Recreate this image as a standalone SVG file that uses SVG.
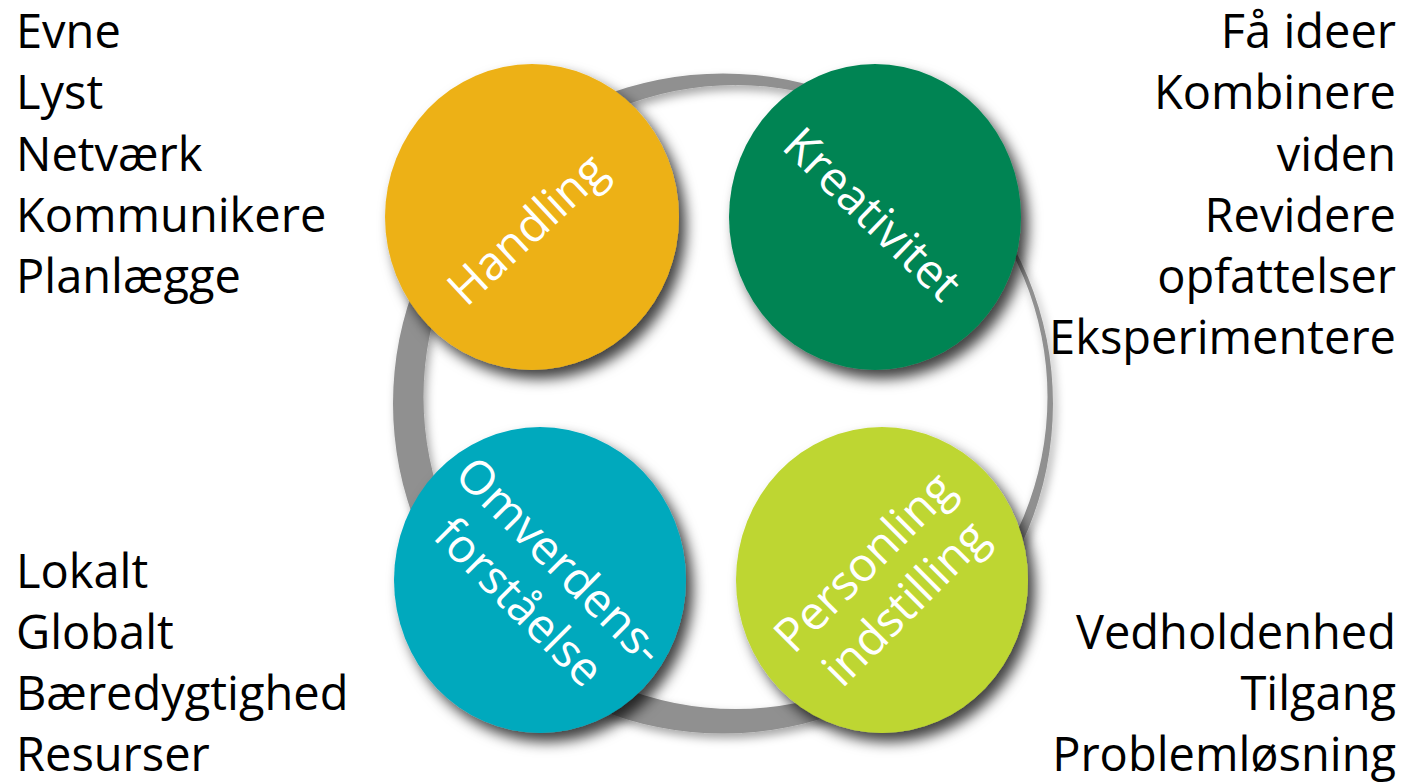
<svg xmlns="http://www.w3.org/2000/svg" width="1406" height="784" viewBox="0 0 1406 784">
  <style>
    .side { font-family: "Open Sans", "Noto Sans", sans-serif; font-size: 47px; fill: #000; }
    .right { text-anchor: end; }
    .label { font-family: "Open Sans", "Noto Sans", sans-serif; font-size: 47px; fill: #fff; text-anchor: middle; }
  </style>
  <defs>
    <filter id="shadow" x="-20%" y="-20%" width="150%" height="150%">
      <feDropShadow dx="7" dy="9" stdDeviation="7" flood-color="#000" flood-opacity="0.75"/>
    </filter>
    <filter id="ringShadow" x="-10%" y="-10%" width="125%" height="125%">
      <feDropShadow dx="3" dy="5" stdDeviation="5" flood-color="#000" flood-opacity="0.35"/>
    </filter>
  </defs>
  <rect width="1406" height="784" fill="#fff"/>

  <!-- cycle ring joining the four areas (thicker at lower left) -->
  <g id="connectors">
    <path id="cycle-ring" filter="url(#ringShadow)" fill="#909090" fill-rule="evenodd"
          d="M393,403.5 a330,330 0 1,0 660,0 a330,330 0 1,0 -660,0 Z
             M423.5,397 a312,312 0 1,0 624,0 a312,312 0 1,0 -624,0 Z"/>
  </g>

  <!-- Handling -->
  <g id="node-handling">
    <ellipse cx="532" cy="217" rx="147" ry="153" fill="#EDB115" filter="url(#shadow)"/>
    <text class="label" transform="translate(538,241) rotate(-43)">Handling</text>
  </g>

  <!-- Kreativitet -->
  <g id="node-kreativitet">
    <ellipse cx="875" cy="217" rx="146" ry="153" fill="#008453" filter="url(#shadow)"/>
    <text class="label" transform="translate(861,226) rotate(44)">Kreativitet</text>
  </g>

  <!-- Omverdensforståelse -->
  <g id="node-omverden">
    <ellipse cx="540" cy="580" rx="146" ry="153" fill="#00A9BD" filter="url(#shadow)"/>
    <g transform="translate(540,581) rotate(45)">
      <text class="label" x="0" y="-12">Omverdens-</text>
      <text class="label" x="0" y="46">forståelse</text>
    </g>
  </g>

  <!-- Personling indstilling -->
  <g id="node-personlig">
    <ellipse cx="882" cy="580" rx="146" ry="153" fill="#BED630" filter="url(#shadow)"/>
    <g transform="translate(884,582) rotate(-45)">
      <text class="label" x="0" y="-12">Personling</text>
      <text class="label" x="0" y="46">indstilling</text>
    </g>
  </g>

  <!-- Handling keywords -->
  <g id="list-handling">
    <text class="side" x="16" y="48">Evne</text>
    <text class="side" x="16" y="109">Lyst</text>
    <text class="side" x="16" y="171">Netværk</text>
    <text class="side" x="16" y="232">Kommunikere</text>
    <text class="side" x="16" y="293">Planlægge</text>
  </g>

  <!-- Kreativitet keywords -->
  <g id="list-kreativitet">
    <text class="side right" x="1396" y="48">Få ideer</text>
    <text class="side right" x="1396" y="109">Kombinere</text>
    <text class="side right" x="1396" y="171">viden</text>
    <text class="side right" x="1396" y="232">Revidere</text>
    <text class="side right" x="1396" y="293">opfattelser</text>
    <text class="side right" x="1396" y="354">Eksperimentere</text>
  </g>

  <!-- Omverdensforståelse keywords -->
  <g id="list-omverden">
    <text class="side" x="16" y="588">Lokalt</text>
    <text class="side" x="16" y="649">Globalt</text>
    <text class="side" x="16" y="710">Bæredygtighed</text>
    <text class="side" x="16" y="771">Resurser</text>
  </g>

  <!-- Personlig indstilling keywords -->
  <g id="list-personlig">
    <text class="side right" x="1396" y="649">Vedholdenhed</text>
    <text class="side right" x="1396" y="710">Tilgang</text>
    <text class="side right" x="1396" y="771">Problemløsning</text>
  </g>
</svg>
